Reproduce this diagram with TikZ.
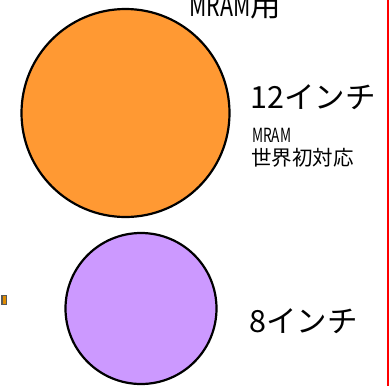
\documentclass[tikz,border=0pt]{standalone}
\usepackage{fontspec}
\setmainfont{Noto Sans CJK JP}
\definecolor{orangefill}{HTML}{FF9933}
\definecolor{purplefill}{HTML}{CC99FF}
\definecolor{tinyorange}{HTML}{E08C00}
\begin{document}
\begin{tikzpicture}[x=1pt,y=-1pt,
  wafer/.style={circle, draw=black, line width=2.2pt, inner sep=0pt},
  bigtxt/.style={anchor=base west, inner sep=0pt, font=\fontsize{30.5}{30.5}\selectfont},
  midtxt/.style={anchor=base west, inner sep=0pt, font=\fontsize{20.5}{20.5}\selectfont},
  smalltxt/.style={anchor=base west, inner sep=0pt, font=\fontsize{19.5}{19.5}\selectfont}]
\useasboundingbox (0,0) rectangle (389,386);
\node[wafer, fill=orangefill, minimum size=208pt] (w12) at (125.5,113) {};
\node[wafer, fill=purplefill, minimum size=151pt] (w8) at (141,308.5) {};
\node[bigtxt] (mramyo) at (189,16.5) {\scalebox{0.7}[1]{MRAM}用};
\node[bigtxt] (l12) at (250,108) {12インチ};
\node[smalltxt] (lmram) at (252,142) {\scalebox{0.7}[1]{MRAM}};
\node[midtxt] (lfirst) at (251,165) {世界初対応};
\node[bigtxt] (l8) at (249,332) {8インチ};
\draw[red, line width=2pt] (387.8,0) -- (387.8,386);
\draw[fill=tinyorange, draw=black!65, line width=1.5pt] (1.8,295.5) rectangle (6.5,304.5);
\end{tikzpicture}
\end{document}
